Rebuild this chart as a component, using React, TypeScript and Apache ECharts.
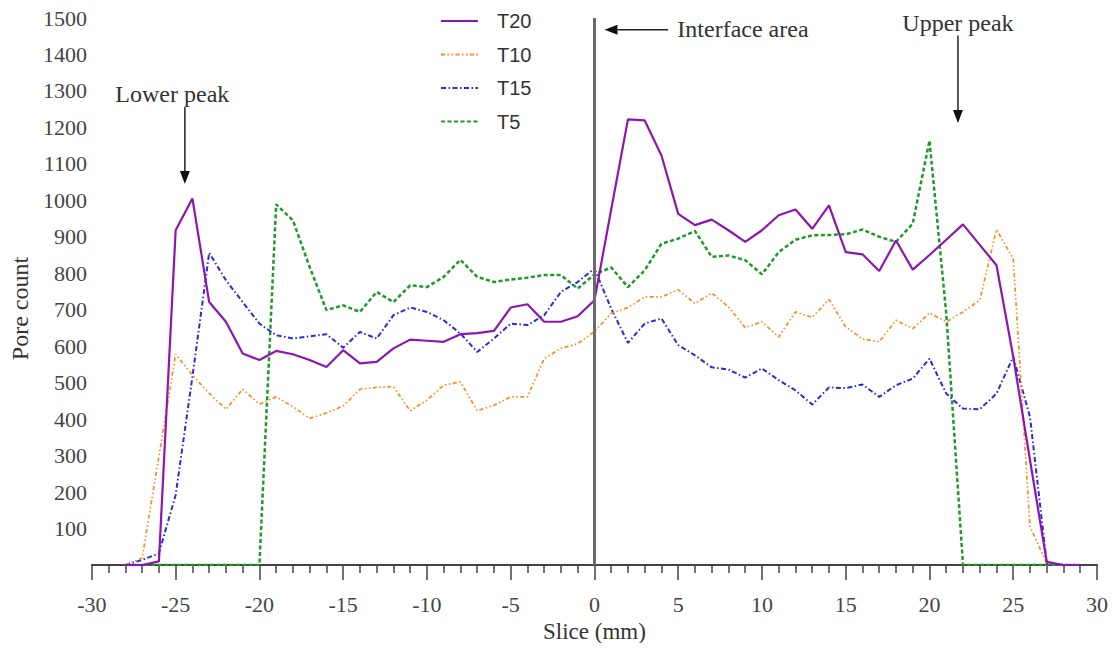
import React, { useEffect, useRef } from "react";
import * as echarts from "echarts";

const slices: number[] = [];
for (let s = -28; s <= 29; s++) slices.push(s);

const seriesNames = ["T20", "T10", "T15", "T5"];

const t20 = [
  0, 0, 10, 918, 1005, 721, 667, 580, 562, 587, 578, 562, 543, 589, 553, 557, 594, 618, 615, 612, 633, 636, 642, 706, 715, 667, 667, 682,
  726, 975, 1222, 1219, 1123, 963, 932, 947, 918, 886, 918, 959, 975, 922, 986, 858, 852, 806, 890, 810, 850, 892, 934, 878, 822, 571, 288, 9, 0, 0,
];
const t10 = [
  0, 19, 297, 578, 521, 471, 427, 482, 441, 461, 434, 402, 417, 436, 482, 487, 489, 423, 452, 493, 502, 423, 438, 461, 461, 566, 594, 607,
  640, 690, 706, 735, 735, 755, 717, 746, 708, 651, 667, 625, 694, 679, 728, 653, 620, 612, 671, 648, 691, 667, 694, 726, 920, 840, 105, 5, 0, 0,
];
const t15 = [
  0, 14, 32, 192, 516, 856, 781, 721, 662, 630, 621, 627, 633, 596, 639, 621, 685, 706, 694, 671, 635, 584, 621, 662, 658, 685, 749, 776,
  813, 703, 609, 662, 676, 603, 575, 542, 536, 514, 539, 507, 479, 440, 487, 485, 495, 461, 493, 511, 566, 470, 429, 427, 470, 571, 406, 5, 0, 0,
];
const t5 = [
  0, 0, 0, 0, 0, 0, 0, 0, 0, 989, 945, 817, 699, 712, 694, 749, 721, 767, 762, 790, 837, 790, 776, 783, 788, 795, 795, 758,
  797, 816, 762, 808, 881, 895, 916, 845, 849, 836, 797, 858, 892, 904, 905, 907, 920, 900, 886, 936, 1164, 690, 0, 0, 0, 0, 0, 0, 0, 0,
];

const interfaceSlice = 0;

const annotations = [
  { text: "Interface area", textAt: [4.95, 1470], align: "left", from: [4.4, 1468], to: [0.6, 1468] },
  { text: "Lower peak", textAt: [-25.2, 1292], align: "center", from: [-24.45, 1255], to: [-24.45, 1045] },
  { text: "Upper peak", textAt: [21.7, 1485], align: "center", from: [21.7, 1452], to: [21.7, 1212] },
];

const colors = { T20: "#8d16b0", T10: "#ff8a1a", T15: "#2a2ae0", T5: "#1f9a2a" };

const toPairs = (vals: number[]) => slices.map((s, i) => [s, vals[i]]);

export default function App() {
  const ref = useRef<HTMLDivElement>(null);
  useEffect(() => {
    if (!ref.current) return;
    const chart = echarts.init(ref.current, null, { renderer: "svg" });
    const serif = "Liberation Serif";
    chart.setOption({
      animation: false,
      backgroundColor: "#ffffff",
      grid: { left: 90, right: 23, top: 18, bottom: 86, containLabel: false },
      legend: {
        data: seriesNames,
        orient: "vertical",
        left: 440,
        top: 11,
        padding: 0,
        itemWidth: 37,
        itemHeight: 16,
        itemGap: 13.5,
        itemStyle: { opacity: 0 },
        textStyle: { fontFamily: "Liberation Sans", fontSize: 20, color: "#333", padding: [0, 0, 0, 14], lineHeight: 16 },
      },
      xAxis: {
        type: "value",
        min: -30,
        max: 30,
        interval: 5,
        name: "Slice (mm)",
        nameLocation: "middle",
        nameGap: 54,
        nameTextStyle: { fontFamily: serif, fontSize: 23, color: "#333" },
        axisLine: { show: true, onZero: false, lineStyle: { color: "#444", width: 2 } },
        axisTick: { show: true, length: 15, lineStyle: { color: "#444", width: 1.5 } },
        minorTick: { show: true, splitNumber: 5, length: 8, lineStyle: { color: "#444", width: 1.5 } },
        axisLabel: { fontFamily: serif, fontSize: 22, color: "#444", margin: 28 },
        splitLine: { show: false },
      },
      yAxis: {
        type: "value",
        min: 0,
        max: 1500,
        interval: 100,
        name: "Pore count",
        nameLocation: "middle",
        nameGap: 45,
        nameTextStyle: { fontFamily: serif, fontSize: 24, color: "#333", padding: [0, 34, 0, 0] },
        axisLine: { show: false },
        axisTick: { show: false },
        axisLabel: {
          fontFamily: serif,
          fontSize: 22,
          color: "#444",
          margin: 5,
          formatter: (v: number) => (v === 0 ? "" : String(v)),
        },
        splitLine: { show: false },
      },
      series: [
        {
          name: "T5",
          type: "line",
          symbol: "none",
          data: toPairs(t5),
          color: colors.T5,
          lineStyle: { color: colors.T5, width: 2.5, type: [4, 2.5] },
          markLine: {
            silent: true,
            symbol: "none",
            label: { show: false },
            lineStyle: { color: "#6a6a6a", width: 3, type: "solid" },
            data: [{ xAxis: interfaceSlice }],
          },
        },
        {
          name: "T15",
          type: "line",
          symbol: "none",
          data: toPairs(t15),
          color: colors.T15,
          lineStyle: { color: colors.T15, width: 2, type: [5, 2.5, 1.5, 2.5] },
        },
        {
          name: "T10",
          type: "line",
          symbol: "none",
          data: toPairs(t10),
          color: colors.T10,
          lineStyle: { color: colors.T10, width: 1.7, type: [4, 2.5, 1.5, 2.5, 1.5, 2.5] },
        },
        {
          name: "T20",
          type: "line",
          symbol: "none",
          data: toPairs(t20),
          color: colors.T20,
          lineStyle: { color: colors.T20, width: 2.2, type: "solid" },
        },
      ],
    });

    const graphics: any[] = [];
    annotations.forEach((a) => {
      const tp = chart.convertToPixel({ gridIndex: 0 }, a.textAt) as number[];
      const fp = chart.convertToPixel({ gridIndex: 0 }, a.from) as number[];
      const ep = chart.convertToPixel({ gridIndex: 0 }, a.to) as number[];
      graphics.push({
        type: "text",
        x: tp[0],
        y: tp[1],
        style: {
          text: a.text,
          fontFamily: serif,
          fontSize: 24,
          fill: "#333",
          align: a.align,
          verticalAlign: "middle",
        },
      });
      const dx = ep[0] - fp[0];
      const dy = ep[1] - fp[1];
      const len = Math.sqrt(dx * dx + dy * dy);
      const ux = dx / len;
      const uy = dy / len;
      const headLen = 13;
      const headHalf = 5;
      const bx = ep[0] - ux * headLen;
      const by = ep[1] - uy * headLen;
      graphics.push({
        type: "line",
        shape: { x1: fp[0], y1: fp[1], x2: bx, y2: by },
        style: { stroke: "#222", lineWidth: 1.5 },
      });
      graphics.push({
        type: "polygon",
        shape: {
          points: [
            [ep[0], ep[1]],
            [bx - uy * headHalf, by + ux * headHalf],
            [bx + uy * headHalf, by - ux * headHalf],
          ],
        },
        style: { fill: "#111" },
      });
    });
    chart.setOption({ graphic: graphics });

    return () => chart.dispose();
  }, []);
  return <div ref={ref} style={{ width: 1120, height: 651, margin: -8 }} />;
}
